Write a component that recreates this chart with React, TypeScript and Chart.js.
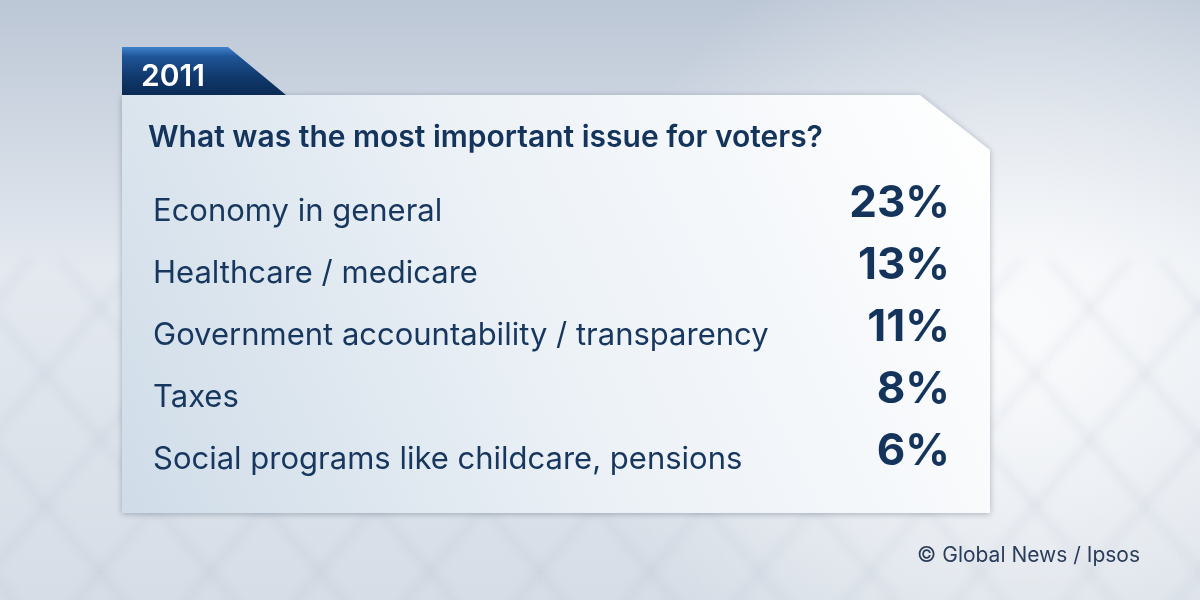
import { useEffect, useRef } from "react"
import { Chart, registerables } from "chart.js"
import type { Plugin } from "chart.js"

Chart.register(...registerables)

// Survey data (Global News / Ipsos, 2011)
const issues = [
  "Economy in general",
  "Healthcare / medicare",
  "Government accountability / transparency",
  "Taxes",
  "Social programs like childcare, pensions",
]
const shares = [23, 13, 11, 8, 6]

const yearLabel = "2011"
const question = "What was the most important issue for voters?"
const credit = "\u00A9 Global News / Ipsos"

const FONT = "Inter, 'Open Sans', sans-serif"
const NAVY = "#14345c"

// Background, card and tab behind the chart
const backdropPlugin: Plugin<"bar"> = {
  id: "backdrop",
  beforeDraw: (chart) => {
    const ctx = chart.ctx
    const w = chart.width
    const h = chart.height
    ctx.save()

    const bg = ctx.createLinearGradient(0, 0, 0, h)
    bg.addColorStop(0, "#bcc7d6")
    bg.addColorStop(0.45, "#e4e9f0")
    bg.addColorStop(1, "#d6dde6")
    ctx.fillStyle = bg
    ctx.fillRect(0, 0, w, h)

    const glow = ctx.createRadialGradient(1020, 330, 20, 1020, 330, 430)
    glow.addColorStop(0, "rgba(255,255,255,0.8)")
    glow.addColorStop(1, "rgba(255,255,255,0)")
    ctx.fillStyle = glow
    ctx.fillRect(0, 0, w, h)

    // soft tile pattern
    ctx.filter = "blur(4px)"
    ctx.strokeStyle = "rgba(140,155,178,0.08)"
    ctx.lineWidth = 8
    for (let i = -600; i < 1400; i += 110) {
      ctx.beginPath()
      ctx.moveTo(i, 620)
      ctx.lineTo(i + 300, 260)
      ctx.stroke()
      ctx.beginPath()
      ctx.moveTo(i, 260)
      ctx.lineTo(i + 300, 620)
      ctx.stroke()
    }
    ctx.filter = "none"

    // card
    ctx.shadowColor = "rgba(40,55,80,0.35)"
    ctx.shadowBlur = 6
    ctx.shadowOffsetY = 1
    ctx.beginPath()
    ctx.moveTo(122, 95)
    ctx.lineTo(920, 95)
    ctx.lineTo(990, 150)
    ctx.lineTo(990, 513)
    ctx.lineTo(122, 513)
    ctx.closePath()
    const card = ctx.createLinearGradient(122, 513, 990, 95)
    card.addColorStop(0, "#cfdce8")
    card.addColorStop(0.5, "#edf2f7")
    card.addColorStop(1, "#ffffff")
    ctx.fillStyle = card
    ctx.fill()
    ctx.shadowColor = "transparent"

    // year tab
    ctx.beginPath()
    ctx.moveTo(122, 47)
    ctx.lineTo(228, 47)
    ctx.lineTo(286, 95)
    ctx.lineTo(122, 95)
    ctx.closePath()
    const tab = ctx.createLinearGradient(0, 47, 0, 95)
    tab.addColorStop(0, "#3f82cc")
    tab.addColorStop(0.2, "#1f5597")
    tab.addColorStop(0.6, "#103a6e")
    tab.addColorStop(1, "#0b2b55")
    ctx.fillStyle = tab
    ctx.fill()

    ctx.fillStyle = "#ffffff"
    ctx.font = `600 30px ${FONT}`
    ctx.textAlign = "left"
    ctx.textBaseline = "alphabetic"
    ctx.fillText(yearLabel, 141, 86)

    ctx.fillStyle = NAVY
    ctx.font = `600 30px ${FONT}`
    ctx.fillText(question, 148, 147)

    ctx.fillStyle = "#2b3d5a"
    ctx.font = `21px ${FONT}`
    ctx.textAlign = "right"
    ctx.fillText(credit, 1140, 562)
    ctx.restore()
  },
}

// Big percentage figures at the right of each row
const valuePlugin: Plugin<"bar"> = {
  id: "values",
  afterDatasetsDraw: (chart) => {
    const ctx = chart.ctx
    const meta = chart.getDatasetMeta(0)
    ctx.save()
    ctx.fillStyle = NAVY
    ctx.font = `bold 44px ${FONT}`
    ctx.textAlign = "right"
    ctx.textBaseline = "middle"
    meta.data.forEach((bar, i) => {
      const v = chart.data.datasets[0].data[i] as number
      ctx.fillText(`${v}%`, 950, bar.y - 8)
    })
    ctx.restore()
  },
}

export default function App() {
  const canvasRef = useRef<HTMLCanvasElement>(null)
  const chartRef = useRef<Chart<"bar"> | null>(null)

  useEffect(() => {
    if (!canvasRef.current) return
    if (chartRef.current) chartRef.current.destroy()

    chartRef.current = new Chart(canvasRef.current, {
      type: "bar",
      data: {
        labels: issues,
        datasets: [
          {
            data: shares,
            backgroundColor: "rgba(0,0,0,0)",
            borderWidth: 0,
          },
        ],
      },
      options: {
        indexAxis: "y",
        animation: false,
        responsive: true,
        maintainAspectRatio: false,
        layout: {
          padding: { left: 153, top: 181, bottom: 109, right: 250 },
        },
        plugins: {
          legend: { display: false },
          tooltip: { enabled: false },
        },
        scales: {
          x: { display: false, min: 0, max: 25 },
          y: {
            grid: { display: false },
            border: { display: false },
            afterFit: (scale) => {
              scale.width = 660
            },
            ticks: {
              crossAlign: "far",
              color: "#17375f",
              font: { family: FONT, size: 31 },
              padding: 0,
            },
          },
        },
      },
      plugins: [backdropPlugin, valuePlugin],
    })

    return () => {
      if (chartRef.current) {
        chartRef.current.destroy()
        chartRef.current = null
      }
    }
  }, [])

  return (
    <div style={{ position: "absolute", left: 0, top: 0, width: 1200, height: 600 }}>
      <canvas ref={canvasRef}></canvas>
    </div>
  )
}
